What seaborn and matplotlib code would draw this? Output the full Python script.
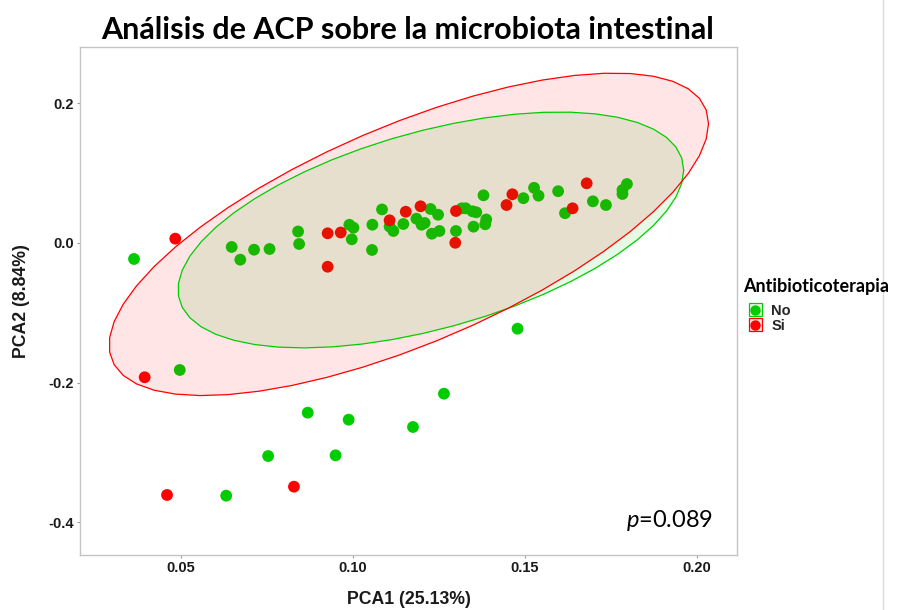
import numpy as np
import pandas as pd
import matplotlib
matplotlib.use("Agg")
import matplotlib.pyplot as plt
import seaborn as sns
from matplotlib.patches import Rectangle
from matplotlib.lines import Line2D
from matplotlib.legend_handler import HandlerBase

# ---------------- data ----------------
groups = ["No", "Si"]
no_pca1 = [0.0363, 0.0647, 0.0672, 0.0712, 0.0757, 0.0840, 0.0843, 0.0989, 0.1001, 0.0996,
           0.1056, 0.1055, 0.1084, 0.1106, 0.1117, 0.1146, 0.1184, 0.1199, 0.1208, 0.1225,
           0.1247, 0.1229, 0.1251, 0.1316, 0.1327, 0.1347, 0.1358, 0.1299, 0.1350, 0.1387,
           0.1384, 0.1379, 0.1495, 0.1526, 0.1539, 0.1596, 0.1616, 0.1697, 0.1735, 0.1796,
           0.1783, 0.1783, 0.1478, 0.0496, 0.0868, 0.0987, 0.1264, 0.1174, 0.0753, 0.0949,
           0.0631]
no_pca2 = [-0.0229, -0.0057, -0.0239, -0.0096, -0.0086, 0.0165, -0.0014, 0.0261, 0.0219, 0.0053,
           0.0262, -0.0100, 0.0481, 0.0236, 0.0172, 0.0272, 0.0348, 0.0262, 0.0287, 0.0487,
           0.0405, 0.0133, 0.0172, 0.0497, 0.0497, 0.0454, 0.0440, 0.0172, 0.0234, 0.0337,
           0.0268, 0.0683, 0.0642, 0.0791, 0.0678, 0.0742, 0.0427, 0.0597, 0.0544, 0.0845,
           0.0759, 0.0702, -0.1228, -0.1819, -0.2431, -0.2531, -0.2159, -0.2636, -0.3052, -0.3042,
           -0.3620]
si_pca1 = [0.0483, 0.0926, 0.0964, 0.0926, 0.1106, 0.1153, 0.1196, 0.1299, 0.1297, 0.1463,
           0.1446, 0.1679, 0.1638, 0.0394, 0.0828, 0.0459]
si_pca2 = [0.0062, 0.0139, 0.0150, -0.0340, 0.0325, 0.0448, 0.0526, 0.0458, 0.0003, 0.0698,
           0.0544, 0.0855, 0.0497, -0.1924, -0.3491, -0.3610]

x_ticks = [0.05, 0.10, 0.15, 0.20]
x_tick_labels = ["0.05", "0.10", "0.15", "0.20"]
y_ticks = [-0.4, -0.2, 0.0, 0.2]
y_tick_labels = ["-0.4", "-0.2", "0.0", "0.2"]

title = "Análisis de ACP sobre la microbiota intestinal"
x_label = "PCA1 (25.13%)"
y_label = "PCA2 (8.84%)"
legend_title = "Antibioticoterapia"
p_value_text = r"$p$=0.089"

colors = {"No": "#00CD00", "Si": "#FF0000"}

df = pd.DataFrame({
    "PCA1": no_pca1 + si_pca1,
    "PCA2": no_pca2 + si_pca2,
    "Antibioticoterapia": ["No"] * len(no_pca1) + ["Si"] * len(si_pca1),
})


# robust multivariate-t ellipse (as ggplot2 stat_ellipse type="t")
def cov_trob(X, nu=5, maxit=25, tol=0.01):
    n, p = X.shape
    loc = X.mean(axis=0)
    w = np.ones(n)
    Xc = X - loc
    for _ in range(maxit):
        w0 = w
        Xc = X - loc
        A = np.sqrt(w / w.sum())[:, None] * Xc
        _, d, Vt = np.linalg.svd(A, full_matrices=False)
        wX = Xc @ Vt.T @ np.diag(1.0 / d)
        Q = (wX ** 2).sum(axis=1)
        w = (nu + p) / (nu + Q)
        loc = (w[:, None] * X).sum(axis=0) / w.sum()
        if np.all(np.abs(w - w0) < tol):
            break
    B = np.sqrt(w)[:, None] * Xc
    cov = B.T @ B / n
    return loc, cov


def ellipse_points(X, level=0.95, segments=51):
    n = X.shape[0]
    center, shape = cov_trob(X)
    L = np.linalg.cholesky(shape)
    dfd = n - 1
    fq = dfd / 2.0 * ((1 - level) ** (-2.0 / dfd) - 1)
    radius = np.sqrt(2 * fq)
    ang = np.linspace(0, 2 * np.pi, segments + 1)
    circ = np.column_stack([np.cos(ang), np.sin(ang)])
    return center + radius * (circ @ L.T)


class KeyHandler(HandlerBase):
    def create_artists(self, legend, orig_handle, xdescent, ydescent, width, height,
                       fontsize, trans):
        c = orig_handle.get_color()
        s = min(width, height)
        x0 = -xdescent + (width - s) / 2
        y0 = -ydescent + (height - s) / 2
        rect = Rectangle((x0, y0), s, s, facecolor=matplotlib.colors.to_rgba(c, 0.1),
                         edgecolor=c, lw=0.9, transform=trans)
        dot = Line2D([x0 + s / 2], [y0 + s / 2], marker="o", linestyle="none",
                     markersize=7.5, markerfacecolor=c, markeredgewidth=0, transform=trans)
        return [rect, dot]


# ---------------- figure ----------------
sns.set_theme(style="white")
plt.rcParams["font.family"] = ["Liberation Sans", "DejaVu Sans"]
plt.rcParams["mathtext.fontset"] = "custom"
plt.rcParams["mathtext.it"] = "Lato:italic"
plt.rcParams["mathtext.rm"] = "Lato"

fig = plt.figure(figsize=(8.97, 6.10), dpi=100)
ax = fig.add_axes([80 / 897, 1 - 555 / 610, (737 - 80) / 897, (555 - 47) / 610])

sns.scatterplot(data=df, x="PCA1", y="PCA2", hue="Antibioticoterapia",
                palette=colors, s=72, linewidth=0, legend=False, ax=ax, zorder=2)

for g in groups:
    sub = df[df["Antibioticoterapia"] == g][["PCA1", "PCA2"]].to_numpy()
    e = ellipse_points(sub)
    ax.fill(e[:, 0], e[:, 1], facecolor=colors[g], alpha=0.1, edgecolor="none", zorder=3)
    ax.plot(e[:, 0], e[:, 1], color=colors[g], lw=0.9, zorder=4)

ax.set_xlim(0.0206, 0.2116)
ax.set_ylim(-0.447, 0.2808)
ax.set_xticks(x_ticks)
ax.set_xticklabels(x_tick_labels)
ax.set_yticks(y_ticks)
ax.set_yticklabels(y_tick_labels)
for lab in ax.get_xticklabels() + ax.get_yticklabels():
    lab.set_fontweight("bold")
    lab.set_fontsize(10.5)
    lab.set_color("#1a1a1a")
ax.tick_params(axis="both", which="major", length=2.5, width=0.8, color="#9a9a9a",
               pad=2, bottom=True, left=True)
for sp in ax.spines.values():
    sp.set_color("#c4c4c4")
    sp.set_linewidth(1.0)

ax.set_xlabel(x_label, fontsize=12.7, fontweight="bold", color="#1a1a1a", labelpad=11)
ax.set_ylabel(y_label, fontsize=12.7, fontweight="bold", color="#1a1a1a", labelpad=13)

ax.text((713 - 80) / (737 - 80), (555 - 527) / (555 - 47), p_value_text,
        transform=ax.transAxes, ha="right", va="baseline", fontsize=17,
        family="Lato", color="black")

fig.text(408 / 897, 1 - 30 / 610, title, ha="center", va="center",
         fontsize=22, fontweight="bold", family="Lato", color="black")

# legend
fig.text(743 / 897, 1 - 287 / 610, legend_title, ha="left", va="center",
         fontsize=13, fontweight="bold", family="Lato", color="black")
proxies = [Line2D([], [], color=colors[g]) for g in groups]
leg = fig.legend(proxies, groups, handler_map={Line2D: KeyHandler()},
                 loc="upper left", bbox_to_anchor=(748 / 897, 1 - 303 / 610),
                 frameon=False, handlelength=1.0, handleheight=1.0,
                 handletextpad=0.6, labelspacing=0.05, borderpad=0, borderaxespad=0,
                 prop={"family": "Liberation Sans", "weight": "bold", "size": 10.5})

fig.add_artist(Line2D([883 / 897, 883 / 897], [0, 1], transform=fig.transFigure,
                      color="#dcdcdc", lw=1))

fig.savefig("out.png", dpi=100)
